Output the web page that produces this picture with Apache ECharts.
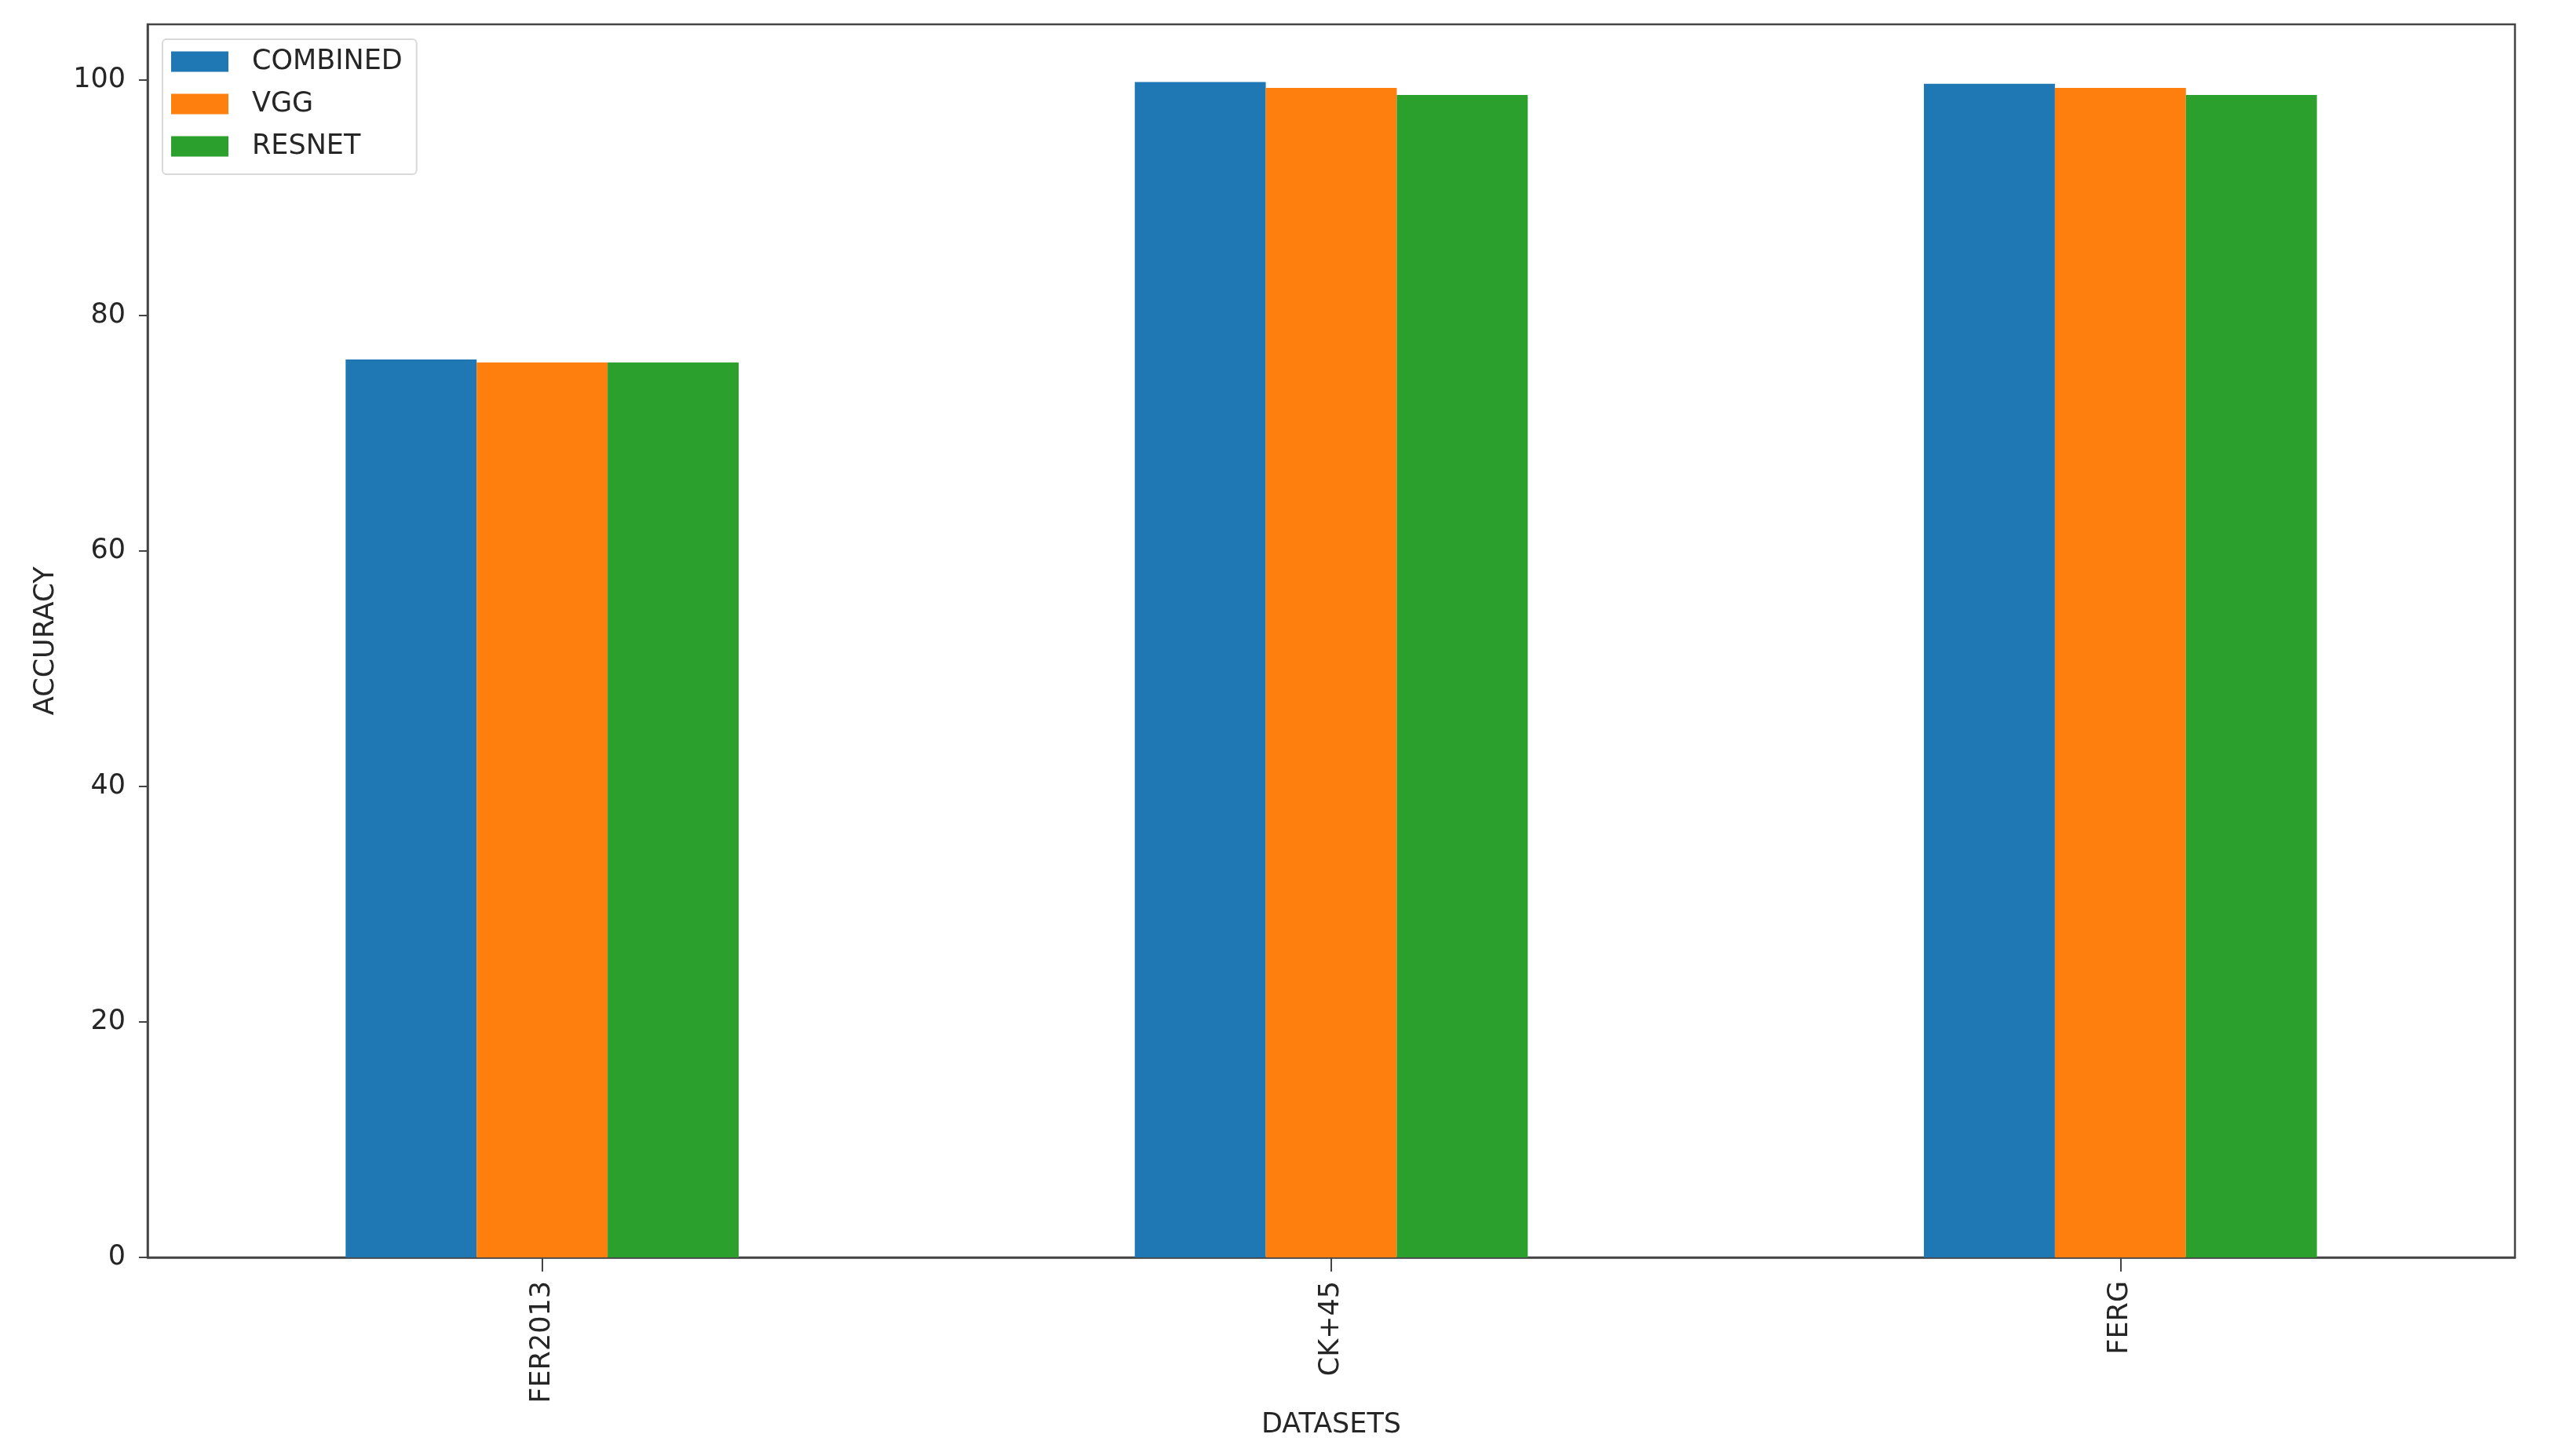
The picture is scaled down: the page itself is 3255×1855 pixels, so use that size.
<!DOCTYPE html>
<html>
<head>
<meta charset="utf-8">
<script src="https://cdn.jsdelivr.net/npm/echarts@6/dist/echarts.min.js"></script>
<style>
html,body{margin:0;padding:0;background:#fff;}
#chart{width:3255px;height:1855px;}
</style>
</head>
<body>
<div id="chart"></div>
<script>
const categories = ['FER2013', 'CK+45', 'FERG'];
const combined = [76.25, 99.8, 99.65];
const vgg = [76.0, 99.3, 99.3];
const resnet = [76.0, 98.7, 98.7];
const yTicks = [0, 20, 40, 60, 80, 100];
const seriesNames = ['COMBINED', 'VGG', 'RESNET'];
const colors = ['#1f77b4', '#ff7f0e', '#2ca02c'];

const FONT = 'DejaVu Sans';
const TXT = '#262626';
const chart = echarts.init(document.getElementById('chart'), null, {renderer: 'canvas'});

const mkSeries = (name, data, color) => ({
  name: name,
  type: 'bar',
  data: data,
  barWidth: '16.6%',
  barGap: '0%',
  itemStyle: {color: color},
  emphasis: {disabled: true},
  animation: false
});

chart.setOption({
  animation: false,
  backgroundColor: '#ffffff',
  textStyle: {fontFamily: FONT},
  grid: {
    left: 188, right: 51, top: 31, bottom: 253,
    show: true, borderColor: '#444', borderWidth: 2.5, backgroundColor: 'transparent'
  },
  legend: {
    orient: 'vertical',
    left: 207, top: 50,
    padding: [11, 18, 18, 11],
    itemWidth: 73, itemHeight: 26, itemGap: 19,
    icon: 'rect',
    backgroundColor: '#ffffff',
    borderColor: '#d9d9d9', borderWidth: 2, borderRadius: 5,
    textStyle: {fontFamily: FONT, fontSize: 35, color: TXT, padding: [0, 0, 0, 25]},
    data: seriesNames
  },
  xAxis: {
    type: 'category',
    data: categories,
    boundaryGap: true,
    name: 'DATASETS',
    nameLocation: 'middle',
    nameGap: 196,
    nameTextStyle: {fontFamily: FONT, fontSize: 35, color: TXT},
    axisLine: {show: true, lineStyle: {color: '#444', width: 2.5}},
    axisTick: {show: true, alignWithLabel: true, length: 18, lineStyle: {color: '#444', width: 2}},
    axisLabel: {rotate: 90, margin: 30, fontFamily: FONT, fontSize: 35, color: TXT},
    splitLine: {show: false}
  },
  yAxis: {
    type: 'value',
    min: 0, max: 104.7, interval: 20,
    name: 'ACCURACY',
    nameLocation: 'middle',
    nameGap: 112,
    nameTextStyle: {fontFamily: FONT, fontSize: 35, color: TXT},
    axisLine: {show: true, lineStyle: {color: '#444', width: 2.5}},
    axisTick: {show: true, length: 11, customValues: yTicks, lineStyle: {color: '#444', width: 2}},
    axisLabel: {margin: 28, fontFamily: FONT, fontSize: 35, color: TXT, customValues: yTicks},
    splitLine: {show: false}
  },
  series: [
    mkSeries(seriesNames[0], combined, colors[0]),
    mkSeries(seriesNames[1], vgg, colors[1]),
    mkSeries(seriesNames[2], resnet, colors[2])
  ]
});
</script>
</body>
</html>
